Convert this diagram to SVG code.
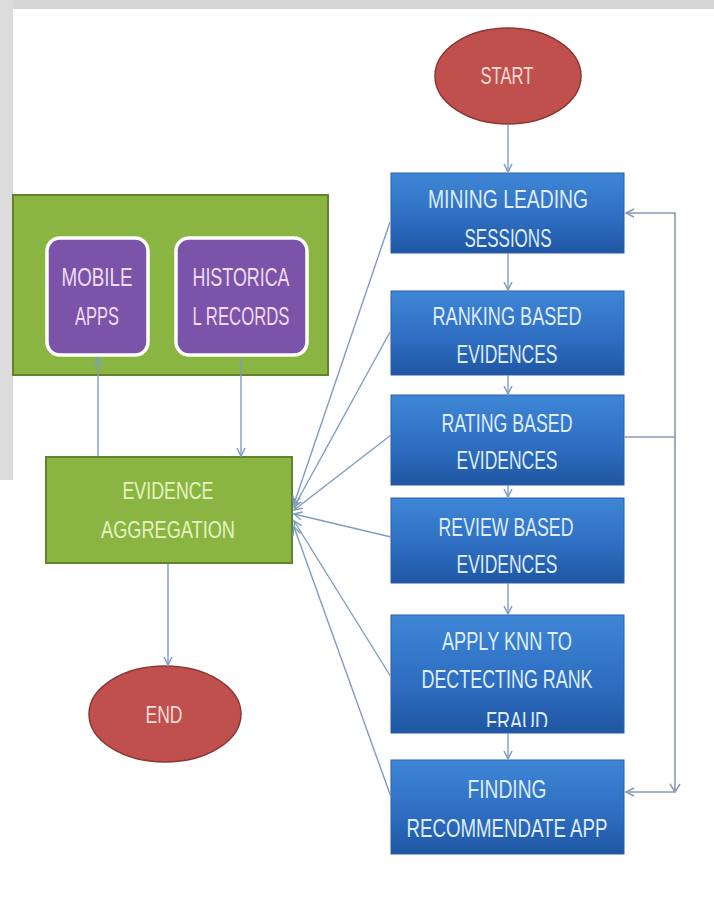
<svg xmlns="http://www.w3.org/2000/svg" width="714" height="898" viewBox="0 0 714 898">
<defs>
<linearGradient id="blueG" x1="0" y1="0" x2="0" y2="1">
<stop offset="0" stop-color="#3f86d6"/>
<stop offset="0.6" stop-color="#2d6cc0"/>
<stop offset="1" stop-color="#1f56a2"/>
</linearGradient>
<marker id="arr" markerWidth="12" markerHeight="12" refX="9" refY="5" orient="auto" markerUnits="userSpaceOnUse">
<path d="M1,1 L9,5 L1,9" fill="none" stroke="#7f9cc4" stroke-width="1.5"/>
</marker>
<marker id="arrG" markerWidth="12" markerHeight="12" refX="9" refY="5" orient="auto" markerUnits="userSpaceOnUse">
<path d="M1,1 L9,5 L1,9" fill="none" stroke="#8a9ab0" stroke-width="1.5"/>
</marker>
<clipPath id="clipApply"><rect x="391" y="615" width="233" height="112"/></clipPath>
</defs>
<style>
.blue{fill:url(#blueG);stroke:#2a5fa8;stroke-width:1}
.bt{font-family:"Liberation Sans",Arial,sans-serif;font-size:25px;fill:#deecfb;text-anchor:middle}
.pt{font-family:"Liberation Sans",Arial,sans-serif;font-size:25px;fill:#eedcf2;text-anchor:middle}
.gt{font-family:"Liberation Sans",Arial,sans-serif;font-size:24px;fill:#e6f3c0;text-anchor:middle}
.rt{font-family:"Liberation Sans",Arial,sans-serif;font-size:24px;fill:#f7dcd8;text-anchor:middle}
.conn{fill:none;stroke:#7f9cc4;stroke-width:1.4}
.loop{fill:none;stroke:#8a9ab0;stroke-width:1.6}
</style>
<rect width="714" height="898" fill="#ffffff"/>
<!-- watermark remnants -->
<rect x="0" y="0" width="714" height="9" fill="#d6d6d6"/>
<rect x="0" y="0" width="13" height="480" fill="#dcdcdc"/>

<g id="start">
<ellipse cx="508" cy="76" rx="73" ry="48" fill="#c0504d" stroke="#8c3533" stroke-width="1.5"/>
<text class="rt" x="507" y="84" textLength="53" lengthAdjust="spacingAndGlyphs">START</text>
</g>

<g id="sources">
<rect x="13" y="195" width="315" height="180" fill="#8bb543" stroke="#62832a" stroke-width="2"/>
</g>
<g id="mobile-apps">
<rect x="47" y="238" width="101" height="117" rx="13" fill="#7b53a9" stroke="#ffffff" stroke-width="3.5"/>
<text class="pt" x="97" y="286" textLength="71" lengthAdjust="spacingAndGlyphs">MOBILE</text>
<text class="pt" x="97" y="325" textLength="44" lengthAdjust="spacingAndGlyphs">APPS</text>
</g>
<g id="historical-records">
<rect x="176" y="238" width="131" height="117" rx="13" fill="#7b53a9" stroke="#ffffff" stroke-width="3.5"/>
<text class="pt" x="241" y="286" textLength="97" lengthAdjust="spacingAndGlyphs">HISTORICA</text>
<text class="pt" x="241" y="325" textLength="97" lengthAdjust="spacingAndGlyphs">L RECORDS</text>
</g>

<g id="evidence-aggregation">
<rect x="46" y="457" width="246" height="106" fill="#8bb543" stroke="#62832a" stroke-width="2"/>
<text class="gt" x="168" y="499" textLength="91" lengthAdjust="spacingAndGlyphs">EVIDENCE</text>
<text class="gt" x="168" y="538" textLength="134" lengthAdjust="spacingAndGlyphs">AGGREGATION</text>
</g>

<g id="end">
<ellipse cx="165" cy="714" rx="76" ry="48" fill="#c0504d" stroke="#8c3533" stroke-width="1.5"/>
<text class="rt" x="164" y="723" textLength="37" lengthAdjust="spacingAndGlyphs">END</text>
</g>

<g id="mining">
<rect class="blue" x="391" y="173" width="233" height="80"/>
<text class="bt" x="508" y="208" textLength="160" lengthAdjust="spacingAndGlyphs">MINING LEADING</text>
<text class="bt" x="508" y="247" textLength="87" lengthAdjust="spacingAndGlyphs">SESSIONS</text>
</g>
<g id="ranking">
<rect class="blue" x="391" y="291" width="233" height="84"/>
<text class="bt" x="507" y="325" textLength="149" lengthAdjust="spacingAndGlyphs">RANKING BASED</text>
<text class="bt" x="507" y="363" textLength="101" lengthAdjust="spacingAndGlyphs">EVIDENCES</text>
</g>
<g id="rating">
<rect class="blue" x="391" y="395" width="233" height="90"/>
<text class="bt" x="507" y="432" textLength="131" lengthAdjust="spacingAndGlyphs">RATING BASED</text>
<text class="bt" x="507" y="469" textLength="101" lengthAdjust="spacingAndGlyphs">EVIDENCES</text>
</g>
<g id="review">
<rect class="blue" x="391" y="498" width="233" height="85"/>
<text class="bt" x="506" y="536" textLength="135" lengthAdjust="spacingAndGlyphs">REVIEW BASED</text>
<text class="bt" x="507" y="573" textLength="101" lengthAdjust="spacingAndGlyphs">EVIDENCES</text>
</g>
<g id="apply-knn">
<rect class="blue" x="391" y="615" width="233" height="118"/>
<text class="bt" x="507" y="650" textLength="130" lengthAdjust="spacingAndGlyphs">APPLY KNN TO</text>
<text class="bt" x="507" y="688" textLength="171" lengthAdjust="spacingAndGlyphs">DECTECTING RANK</text>
<text class="bt" x="517" y="730" textLength="62" lengthAdjust="spacingAndGlyphs" clip-path="url(#clipApply)">FRAUD</text>
</g>
<g id="finding">
<rect class="blue" x="391" y="760" width="233" height="94"/>
<text class="bt" x="507" y="798" textLength="79" lengthAdjust="spacingAndGlyphs">FINDING</text>
<text class="bt" x="507" y="837" textLength="201" lengthAdjust="spacingAndGlyphs">RECOMMENDATE APP</text>
</g>

<g id="connectors">
<line class="conn" x1="508" y1="124" x2="508" y2="172" marker-end="url(#arr)"/>
<line class="conn" x1="508" y1="253" x2="508" y2="290" marker-end="url(#arr)"/>
<line class="conn" x1="508" y1="375" x2="508" y2="394" marker-end="url(#arr)"/>
<line class="conn" x1="508" y1="485" x2="508" y2="497" marker-end="url(#arr)"/>
<line class="conn" x1="508" y1="583" x2="508" y2="614" marker-end="url(#arr)"/>
<line class="conn" x1="508" y1="733" x2="508" y2="759" marker-end="url(#arr)"/>
<path class="loop" d="M624,437 H675 V213 H626" marker-end="url(#arrG)"/>
<path class="loop" d="M675,437 V791"/>
<path class="loop" d="M670,784 L675,792 L680,784"/>
<path class="loop" d="M675,792 H626" marker-end="url(#arrG)"/>
<line class="conn" x1="390" y1="222" x2="294" y2="504" marker-end="url(#arr)"/>
<line class="conn" x1="390" y1="332" x2="294" y2="507" marker-end="url(#arr)"/>
<line class="conn" x1="391" y1="435" x2="294" y2="510" marker-end="url(#arr)"/>
<line class="conn" x1="391" y1="537" x2="294" y2="514" marker-end="url(#arr)"/>
<line class="conn" x1="391" y1="677" x2="294" y2="521" marker-end="url(#arr)"/>
<line class="conn" x1="391" y1="797" x2="294" y2="527" marker-end="url(#arr)"/>
<line class="conn" x1="98" y1="456" x2="98" y2="358" marker-end="url(#arr)"/>
<line class="conn" x1="241" y1="357" x2="241" y2="456" marker-end="url(#arr)"/>
<line class="conn" x1="168" y1="564" x2="168" y2="665" marker-end="url(#arr)"/>
</g>
</svg>
